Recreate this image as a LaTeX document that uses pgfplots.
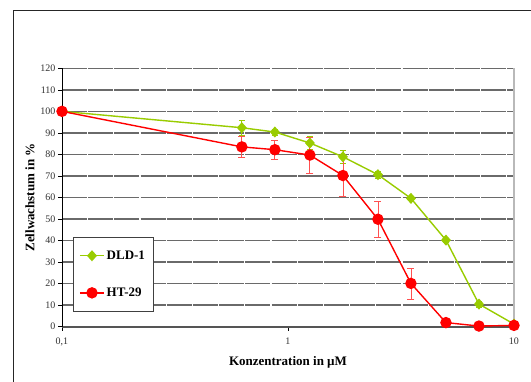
\documentclass[border=0pt]{standalone}
\usepackage{fontspec}
\setmainfont{Liberation Serif}
\usepackage{pgfplots}
\pgfplotsset{compat=1.18}
\definecolor{lime}{HTML}{99CC00}
\definecolor{gridc}{HTML}{6A6A6A}
\definecolor{axc}{HTML}{555555}
\definecolor{errred}{HTML}{FF5050}
\begin{document}
\begin{tikzpicture}
\useasboundingbox (0,0) rectangle (531pt,382pt);
\fill[white] (0,0) rectangle (531pt,382pt);
\draw[line width=1.6pt, black!85] (13.5pt,-20pt) -- (13.5pt,371.5pt) -- (560pt,371.5pt);
\begin{axis}[
  at={(62pt,55.3pt)}, anchor=south west,
  scale only axis, width=452pt, height=258.4pt,
  xmode=log, xmin=0.1, xmax=10, ymin=0, ymax=120,
  xtick={0.1,1,10}, xticklabels={{0,1},1,10}, xminorticks=false,
  ytick={0,10,...,120},
  xtick pos=bottom, ytick pos=left,
  axis line style={draw=none},
  tick align=outside, major tick length=4pt,
  tick style={black, line width=0.6pt},
  ymajorgrids, grid style={gridc, line width=1.5pt, dash pattern=on 25pt off 1.2pt},
  /pgf/number format/assume math mode=true,
  ticklabel style={font=\fontsize{10}{12}\selectfont, text=black!80},
  xticklabel style={yshift=-4pt},
  yticklabel style={xshift=1pt},
  xlabel={\textbf{Konzentration in µM}},
  ylabel={\textbf{Zellwachstum in \%}},
  label style={font=\fontsize{13}{15}\selectfont},
  xlabel style={at={(axis description cs:0.5,-0.137)}, anchor=center},
  ylabel style={at={(axis description cs:-0.0708,0.5)}, anchor=center, rotate=0},
  clip=false,
  legend style={at={(0.024,0.348)}, anchor=north west, draw=black!75, line width=0.9pt,
    font=\bfseries\fontsize{13}{15}\selectfont, inner xsep=6pt, inner ysep=11.5pt,
    row sep=23pt, cells={anchor=west}},
  legend image code/.code={\draw[mark repeat=2,mark phase=2] plot coordinates {(0pt,0pt) (12pt,0pt) (24pt,0pt)};},
]
\draw[gray!55, line width=1.4pt] (rel axis cs:1,0) -- (rel axis cs:1,1);
\draw[axc, line width=2pt] (rel axis cs:0,0) -- (rel axis cs:1,0);
\draw[black, line width=0.8pt] (rel axis cs:0,0) -- (rel axis cs:0,1);
\addplot[lime, line width=1.4pt, mark=diamond*, mark size=4.5pt, mark options={solid, fill=lime, draw=lime, xscale=1.2},
  error bars/.cd, y dir=both, y explicit, error bar style={lime, line width=0.8pt},
  error mark options={rotate=90, mark size=3pt, lime}]
 coordinates {
 (0.1,100) +- (0,0)
 (0.625,92.4) +- (0,3.3)
 (0.875,90.4) +- (0,1.5)
 (1.25,85.3) +- (0,3)
 (1.75,78.9) +- (0,3)
 (2.5,70.6) +- (0,1.5)
 (3.5,59.6) +- (0,1)
 (5,40.2) +- (0,0.8)
 (7,10.5) +- (0,1.5)
 (10,1.2) +- (0,0.5)
 };
\addlegendentry{DLD-1}
\addplot[red, line width=1.4pt, mark=*, mark size=5pt, mark options={solid, fill=red, draw=red},
  error bars/.cd, y dir=both, y explicit, error bar style={errred, line width=0.8pt},
  error mark options={rotate=90, mark size=3.5pt, errred}]
 coordinates {
 (0.1,100) +- (0,0)
 (0.625,83.5) +- (0,5)
 (0.875,82.2) +- (0,4.6)
 (1.25,79.7) +- (0,8.5)
 (1.75,70.2) +- (0,9.5)
 (2.5,49.9) +- (0,8.5)
 (3.5,20.1) +- (0,7.2)
 (5,1.9) +- (0,0)
 (7,0.3) +- (0,0)
 (10,0.6) +- (0,0)
 };
\addlegendentry{HT-29}
\end{axis}
\end{tikzpicture}
\end{document}
